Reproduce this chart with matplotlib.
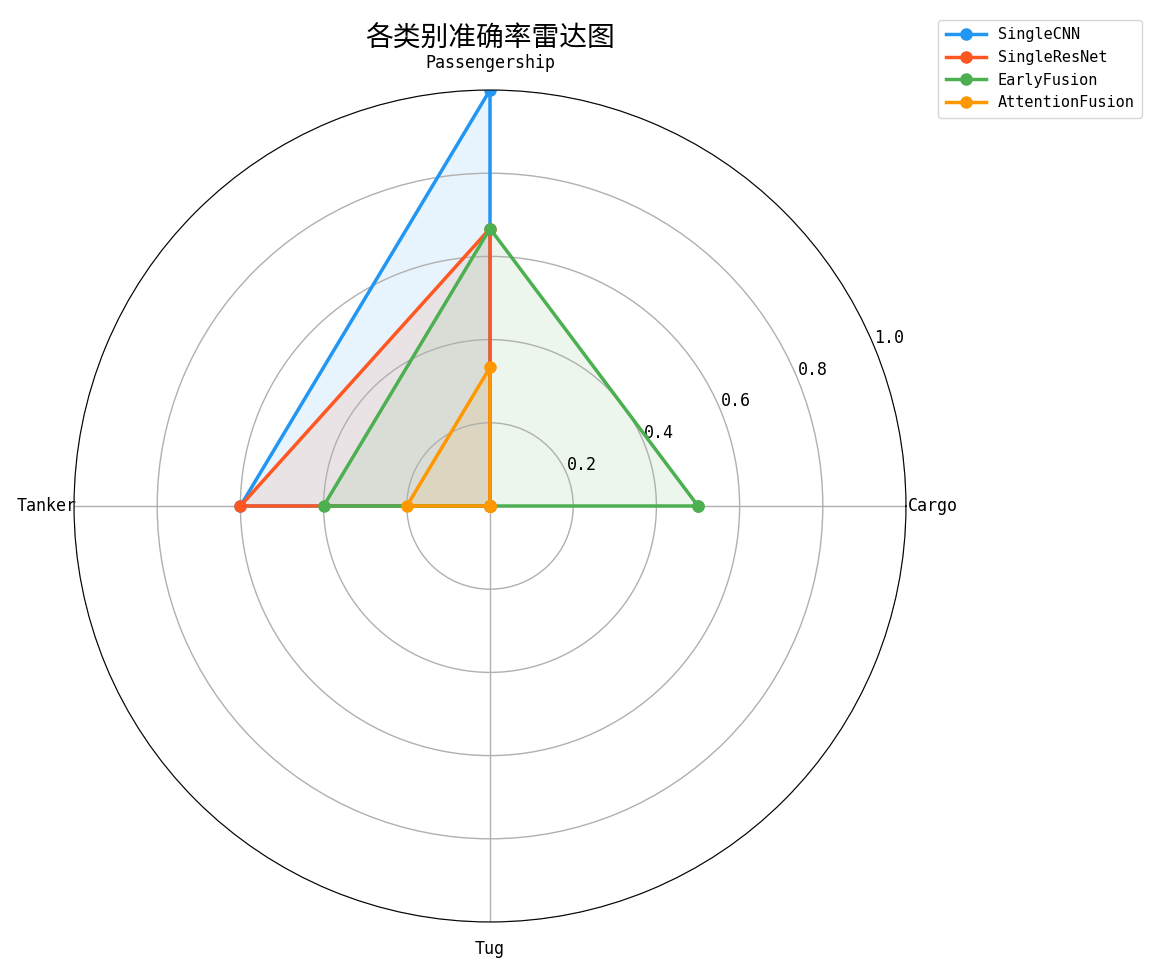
import numpy as np
import matplotlib
matplotlib.use("Agg")
import matplotlib.pyplot as plt

plt.rcParams['font.family'] = ['DejaVu Sans Mono', 'Noto Sans CJK SC']
plt.rcParams['axes.unicode_minus'] = False

categories = ["Cargo", "Passengership", "Tanker", "Tug"]
single_cnn = [0.0, 1.0, 0.6, 0.0]
single_resnet = [0.0, 0.667, 0.6, 0.0]
early_fusion = [0.5, 0.667, 0.4, 0.0]
attention_fusion = [0.0, 0.333, 0.2, 0.0]

models = {
    "SingleCNN": (single_cnn, "#2196F3"),
    "SingleResNet": (single_resnet, "#FF5722"),
    "EarlyFusion": (early_fusion, "#4CAF50"),
    "AttentionFusion": (attention_fusion, "#FF9800"),
}

angles = np.linspace(0, 2 * np.pi, len(categories), endpoint=False).tolist()
angles += angles[:1]

fig = plt.figure(figsize=(11.63, 9.75), dpi=100)
ax = fig.add_axes([74 / 1163, 53 / 975, 832 / 1163, 832 / 975], projection="polar")

for name, (vals, color) in models.items():
    v = vals + vals[:1]
    ax.plot(angles, v, 'o-', color=color, linewidth=2.5, markersize=8, label=name)
    ax.fill(angles, v, color=color, alpha=0.1)

ax.set_xticks(angles[:-1])
ax.set_xticklabels(categories, fontsize=12)
ax.tick_params(axis='x', pad=9)
ax.set_ylim(0, 1.0)
ax.set_yticks([0.2, 0.4, 0.6, 0.8, 1.0])
ax.set_yticklabels(["0.2", "0.4", "0.6", "0.8", "1.0"], fontsize=12)
ax.set_rlabel_position(22.5)
ax.grid(color="#b0b0b0", linewidth=1)
ax.set_title("各类别准确率雷达图", fontsize=20, y=1.0, pad=31)

fig.legend(loc="upper right", bbox_to_anchor=(1150 / 1163, 1 - 12 / 975),
           fontsize=11, handlelength=2.6, borderpad=0.5)

fig.savefig("out.png", dpi=100)
